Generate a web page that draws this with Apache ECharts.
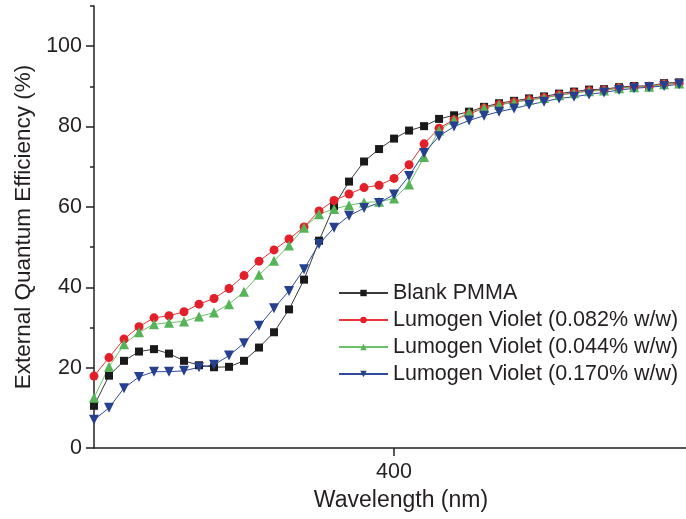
<!doctype html>
<html>
    <head>
        <meta charset="utf-8">
        <title>External Quantum Efficiency</title>
        <style>
            html, body { margin: 0; padding: 0; background: #fff; }
            #main { width: 686px; height: 519px; }
        </style>
    </head>
    <body>
        <div id="main"></div>
        <script src="https://cdn.jsdelivr.net/npm/echarts@6/dist/echarts.min.js"></script>
        <script>

            // wavelength (nm), 5 nm steps
            var wavelength = [300, 305, 310, 315, 320, 325, 330, 335, 340, 345,
                              350, 355, 360, 365, 370, 375, 380, 385, 390, 395,
                              400, 405, 410, 415, 420, 425, 430, 435, 440, 445,
                              450, 455, 460, 465, 470, 475, 480, 485, 490, 495];

            var blankPMMA = [10.5, 18.0, 21.7, 24.0, 24.6, 23.5, 21.7, 20.6, 20.1, 20.2,
                             21.7, 25.0, 28.8, 34.5, 41.9, 51.6, 60.2, 66.3, 71.3, 74.4,
                             77.0, 79.0, 80.1, 81.9, 82.8, 83.7, 84.9, 85.8, 86.4, 87.0,
                             87.5, 88.2, 88.7, 89.2, 89.3, 89.8, 90.1, 90.1, 90.8, 91.0];

            var violet082 = [17.9, 22.5, 27.1, 30.2, 32.4, 32.9, 33.9, 35.8, 37.2, 39.7,
                             42.9, 46.5, 49.3, 52.0, 55.0, 59.0, 61.6, 63.2, 64.8, 65.4,
                             67.1, 70.5, 75.7, 79.6, 81.7, 83.1, 84.6, 85.5, 86.1, 86.7,
                             87.2, 87.9, 88.4, 88.9, 89.1, 89.6, 89.9, 90.0, 90.6, 90.8];

            var violet044 = [12.5, 20.2, 25.8, 28.8, 30.8, 31.2, 31.5, 32.7, 33.7, 35.8,
                             38.9, 43.1, 46.6, 50.4, 54.8, 58.2, 59.5, 60.4, 61.1, 61.3,
                             62.1, 65.6, 72.4, 79.0, 81.6, 83.5, 84.6, 85.4, 86.0, 86.6,
                             87.1, 87.8, 88.3, 88.8, 89.0, 89.5, 89.8, 89.9, 90.5, 90.7];

            var violet170 = [7.0, 10.0, 14.9, 17.7, 19.0, 19.0, 19.2, 20.1, 20.7, 23.0,
                             26.1, 30.4, 34.8, 39.1, 44.5, 50.8, 54.8, 57.8, 59.7, 61.0,
                             63.1, 67.7, 73.4, 77.6, 80.0, 81.5, 82.7, 83.7, 84.5, 85.4,
                             86.2, 87.0, 87.4, 88.0, 88.5, 89.1, 89.5, 89.8, 90.1, 90.5];

            var seriesNames = ['Blank PMMA', 'Lumogen Violet (0.082% w/w)',
                               'Lumogen Violet (0.044% w/w)', 'Lumogen Violet (0.170% w/w)'];

            var yMajorTicks = [0, 20, 40, 60, 80, 100];
            var yMinorTicks = [10, 30, 50, 70, 90, 110];
            var xTicks = [400];

            var font = '"Liberation Sans", Arial, Helvetica, sans-serif';
            var ink = '#231f20';

            function pairs(ys) {
                return wavelength.map(function (x, i) { return [x, ys[i]]; });
            }

            function makeSeries(name, ys, symbol, size, rotate, lineColor, fillColor) {
                return {
                    name: name,
                    type: 'line',
                    data: pairs(ys),
                    symbol: symbol,
                    symbolSize: size,
                    symbolRotate: rotate,
                    showAllSymbol: true,
                    lineStyle: { color: lineColor, width: 1 },
                    itemStyle: { color: fillColor, borderWidth: 0 },
                    emphasis: { disabled: true },
                    animation: false
                };
            }

            var myChart = echarts.init(document.getElementById('main'), null, { renderer: 'canvas' });

            var option = {
                backgroundColor: '#fff',
                textStyle: { fontFamily: font },
                grid: { left: 94, right: 0, top: 6, bottom: 71 },
                legend: {
                    orient: 'vertical',
                    left: 338,
                    top: 282,
                    padding: 0,
                    itemWidth: 49,
                    itemHeight: 8,
                    itemGap: 5,
                    textStyle: { fontFamily: font, fontSize: 21.5, color: ink },
                    data: seriesNames
                },
                xAxis: {
                    type: 'value',
                    min: 300,
                    max: 497.3,
                    name: 'Wavelength (nm)',
                    nameLocation: 'middle',
                    nameGap: 41,
                    nameTextStyle: { fontFamily: font, fontSize: 23, color: ink, padding: [0, 0, 0, 22] },
                    axisLine: { lineStyle: { color: ink, width: 1.5 } },
                    axisTick: { show: true, inside: false, length: 8, customValues: xTicks, lineStyle: { color: ink, width: 1.5 } },
                    axisLabel: { margin: 13, fontSize: 21.5, color: ink, fontFamily: font, customValues: xTicks },
                    splitLine: { show: false }
                },
                yAxis: [
                    {
                        type: 'value',
                        min: 0,
                        max: 110,
                        name: 'External Quantum Efficiency (%)',
                        nameLocation: 'middle',
                        nameGap: 56,
                        nameTextStyle: { fontFamily: font, fontSize: 22.5, color: ink },
                        axisLine: { show: true, lineStyle: { color: ink, width: 1.5 } },
                        axisTick: { show: true, inside: false, length: 8, customValues: yMajorTicks, lineStyle: { color: ink, width: 1.5 } },
                        axisLabel: { margin: 12, fontSize: 21.5, color: ink, fontFamily: font, customValues: yMajorTicks },
                        splitLine: { show: false }
                    },
                    {
                        type: 'value',
                        min: 0,
                        max: 110,
                        position: 'left',
                        offset: 0,
                        axisLine: { show: false },
                        axisTick: { show: true, inside: false, length: 4, customValues: yMinorTicks, lineStyle: { color: ink, width: 1.5 } },
                        axisLabel: { show: false },
                        splitLine: { show: false }
                    }
                ],
                series: [
                    makeSeries(seriesNames[0], blankPMMA, 'rect', 8, 0, '#3a3a3a', '#1a1a1a'),
                    makeSeries(seriesNames[1], violet082, 'circle', 9, 0, '#e8343a', '#e3202a'),
                    makeSeries(seriesNames[2], violet044, 'triangle', 10, 0, '#6cc06a', '#55b457'),
                    makeSeries(seriesNames[3], violet170, 'triangle', 10, 180, '#3049a0', '#26408f')
                ]
            };

            myChart.setOption(option);

        </script>
    </body>
</html>
